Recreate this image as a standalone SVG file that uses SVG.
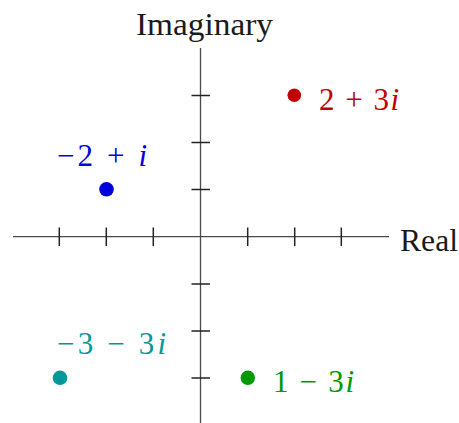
<svg xmlns="http://www.w3.org/2000/svg" width="459" height="423" viewBox="0 0 459 423">
<rect width="459" height="423" fill="#fff"/>
<g id="axes" fill="none">
<line stroke="#4a4a4a" stroke-width="1.3" x1="13" y1="236.7" x2="389" y2="236.7"/>
<line stroke="#4a4a4a" stroke-width="1.3" x1="200.5" y1="48" x2="200.5" y2="423"/>
<g id="ticks" stroke="#222" stroke-width="1.5">
<line x1="59.3" y1="227.5" x2="59.3" y2="246"/>
<line x1="106.3" y1="227.5" x2="106.3" y2="246"/>
<line x1="153.3" y1="227.5" x2="153.3" y2="246"/>
<line x1="247.7" y1="227.5" x2="247.7" y2="246"/>
<line x1="294.7" y1="227.5" x2="294.7" y2="246"/>
<line x1="341.3" y1="227.5" x2="341.3" y2="246"/>
<line x1="191.5" y1="95.5" x2="210" y2="95.5"/>
<line x1="191.5" y1="142.5" x2="210" y2="142.5"/>
<line x1="191.5" y1="189.5" x2="210" y2="189.5"/>
<line x1="191.5" y1="284" x2="210" y2="284"/>
<line x1="191.5" y1="331" x2="210" y2="331"/>
<line x1="191.5" y1="378" x2="210" y2="378"/>
</g>
</g>
<g id="axis-labels">
<text style="font-family:'Liberation Serif',serif;font-size:31px" fill="#1a1a1a" x="136" y="35" textLength="137" lengthAdjust="spacingAndGlyphs">Imaginary</text>
<text style="font-family:'Liberation Serif',serif;font-size:31px" fill="#1a1a1a" x="400" y="251" textLength="58" lengthAdjust="spacingAndGlyphs">Real</text>
</g>
<g id="p1">
<circle cx="294.3" cy="95.3" r="6.8" fill="#c00000"/>
<text style="font-family:'Liberation Serif',serif;font-size:31px" x="319" y="110" fill="#c00000" textLength="80" lengthAdjust="spacing">2 + 3<tspan font-style="italic">i</tspan></text>
</g>
<g id="p2">
<circle cx="106.5" cy="189.3" r="7.3" fill="#0000dd"/>
<text style="font-family:'Liberation Serif',serif;font-size:31px" x="57" y="166" fill="#0000dd" textLength="90" lengthAdjust="spacing">−2 + <tspan font-style="italic">i</tspan></text>
</g>
<g id="p3">
<circle cx="60" cy="377.8" r="7.3" fill="#009999"/>
<text style="font-family:'Liberation Serif',serif;font-size:31px" x="57" y="354" fill="#009999" textLength="109" lengthAdjust="spacing">−3 − 3<tspan font-style="italic">i</tspan></text>
</g>
<g id="p4">
<circle cx="247.8" cy="377.8" r="7.2" fill="#009900"/>
<text style="font-family:'Liberation Serif',serif;font-size:31px" x="273" y="391.5" fill="#009900" textLength="81" lengthAdjust="spacing">1 − 3<tspan font-style="italic">i</tspan></text>
</g>
</svg>
